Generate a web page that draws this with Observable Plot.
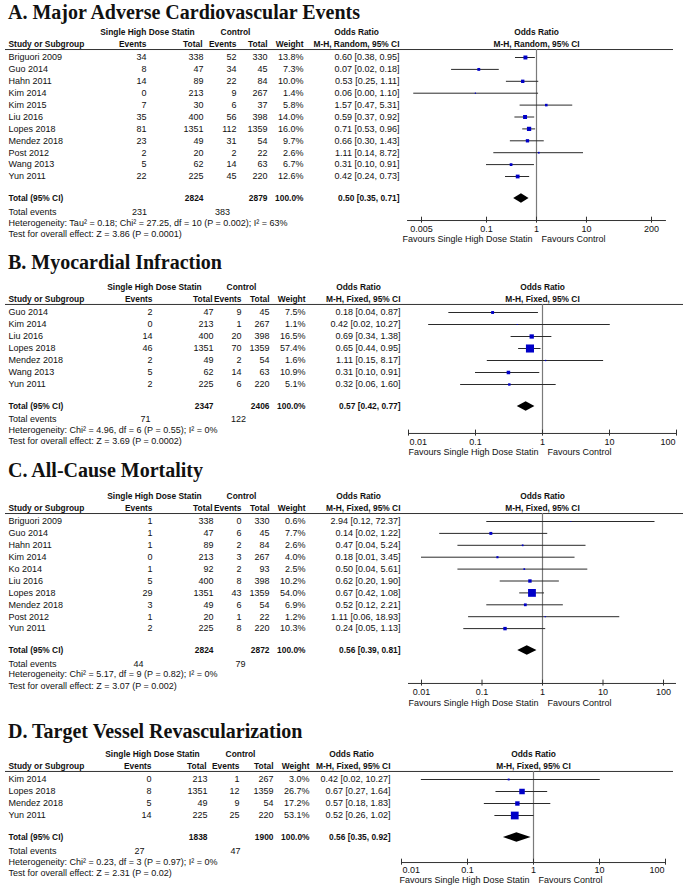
<!DOCTYPE html>
<html><head><meta charset="utf-8">
<script src="https://cdn.jsdelivr.net/npm/d3@7"></script>
<script src="https://cdn.jsdelivr.net/npm/@observablehq/plot@0.6"></script>
<style>
body{margin:0;background:#fff;}
#wrap{position:relative;width:685px;height:886px;overflow:hidden;background:#fff;}
.title{position:absolute;left:8px;font-family:"Liberation Serif","Times New Roman",serif;font-weight:bold;font-size:20px;line-height:20px;color:#111;white-space:nowrap;}
.panel{position:absolute;left:0;}
.panel svg{overflow:visible;}
</style></head><body><div id="wrap"></div>
<script>
// ---------- Panel A: Major Adverse Cardiovascular Events ----------
const studiesA = ["Briguori 2009","Guo 2014","Hahn 2011","Kim 2014","Kim 2015","Liu 2016","Lopes 2018","Mendez 2018","Post 2012","Wang 2013","Yun 2011"];
const eventsTA = [34,8,14,0,7,35,81,23,2,5,22];
const totalTA  = [338,47,89,213,30,400,1351,49,20,62,225];
const eventsCA = [52,34,22,9,6,56,112,31,2,14,45];
const totalCA  = [330,45,84,267,37,398,1359,54,22,63,220];
const weightA  = [13.8,7.3,10.0,1.4,5.8,14.0,16.0,9.7,2.6,6.7,12.6];
const orA      = [0.60,0.07,0.53,0.06,1.57,0.59,0.71,0.66,1.11,0.31,0.42];
const loA      = [0.38,0.02,0.25,0.0035,0.47,0.37,0.53,0.30,0.14,0.10,0.24];
const hiA      = [0.95,0.18,1.11,1.10,5.31,0.92,0.96,1.43,8.72,0.91,0.73];
const sumA     = {nT:2824, nC:2879, eT:231, eC:383, or:0.50, lo:0.35, hi:0.71};
const hetA  = "Heterogeneity: Tau² = 0.18; Chi² = 27.25, df = 10 (P = 0.002); I² = 63%";
const testA = "Test for overall effect: Z = 3.86 (P = 0.0001)";
const ticksA = [0.005,0.1,1,10,200];

// ---------- Panel B: Myocardial Infraction ----------
const studiesB = ["Guo 2014","Kim 2014","Liu 2016","Lopes 2018","Mendez 2018","Wang 2013","Yun 2011"];
const eventsTB = [2,0,14,46,2,5,2];
const totalTB  = [47,213,400,1351,49,62,225];
const eventsCB = [9,1,20,70,2,14,6];
const totalCB  = [45,267,398,1359,54,63,220];
const weightB  = [7.5,1.1,16.5,57.4,1.6,10.9,5.1];
const orB      = [0.18,0.42,0.69,0.65,1.11,0.31,0.32];
const loB      = [0.04,0.02,0.34,0.44,0.15,0.10,0.06];
const hiB      = [0.87,10.27,1.38,0.95,8.17,0.91,1.60];
const sumB     = {nT:2347, nC:2406, eT:71, eC:122, or:0.57, lo:0.42, hi:0.77};
const hetB  = "Heterogeneity: Chi² = 4.96, df = 6 (P = 0.55); I² = 0%";
const testB = "Test for overall effect: Z = 3.69 (P = 0.0002)";

// ---------- Panel C: All-Cause Mortality ----------
const studiesC = ["Briguori 2009","Guo 2014","Hahn 2011","Kim 2014","Ko 2014","Liu 2016","Lopes 2018","Mendez 2018","Post 2012","Yun 2011"];
const eventsTC = [1,1,1,0,1,5,29,3,1,2];
const totalTC  = [338,47,89,213,92,400,1351,49,20,225];
const eventsCC = [0,6,2,3,2,8,43,6,1,8];
const totalCC  = [330,45,84,267,93,398,1359,54,22,220];
const weightC  = [0.6,7.7,2.6,4.0,2.5,10.2,54.0,6.9,1.2,10.3];
const orC      = [2.94,0.14,0.47,0.18,0.50,0.62,0.67,0.52,1.11,0.24];
const loC      = [0.12,0.02,0.04,0.01,0.04,0.20,0.42,0.12,0.06,0.05];
const hiC      = [72.37,1.22,5.24,3.45,5.61,1.90,1.08,2.21,18.93,1.13];
const sumC     = {nT:2824, nC:2872, eT:44, eC:79, or:0.56, lo:0.39, hi:0.81};
const hetC  = "Heterogeneity: Chi² = 5.17, df = 9 (P = 0.82); I² = 0%";
const testC = "Test for overall effect: Z = 3.07 (P = 0.002)";

// ---------- Panel D: Target Vessel Revascularization ----------
const studiesD = ["Kim 2014","Lopes 2018","Mendez 2018","Yun 2011"];
const eventsTD = [0,8,5,14];
const totalTD  = [213,1351,49,225];
const eventsCD = [1,12,9,25];
const totalCD  = [267,1359,54,220];
const weightD  = [3.0,26.7,17.2,53.1];
const orD      = [0.42,0.67,0.57,0.52];
const loD      = [0.02,0.27,0.18,0.26];
const hiD      = [10.27,1.64,1.83,1.02];
const sumD     = {nT:1838, nC:1900, eT:27, eC:47, or:0.56, lo:0.35, hi:0.92};
const hetD  = "Heterogeneity: Chi² = 0.23, df = 3 (P = 0.97); I² = 0%";
const testD = "Test for overall effect: Z = 2.31 (P = 0.02)";

const ticksBCD = [0.01,0.1,1,10,100];

const titles = ["A. Major Adverse Cardiovascular Events","B. Myocardial Infraction","C. All-Cause Mortality","D. Target Vessel Revascularization"];
const methods = ["M-H, Random, 95% CI","M-H, Fixed, 95% CI","M-H, Fixed, 95% CI","M-H, Fixed, 95% CI"];

// ---------- helpers ----------
function buildRows(studies, eT, nT, eC, nC, w, or, lo, hi) {
  return studies.map((s, i) => ({i, s, eT: eT[i], nT: nT[i], eC: eC[i], nC: nC[i], w: w[i], or: or[i], lo: lo[i], hi: hi[i]}));
}
const f2 = v => v.toFixed(2);
const ciText = d => `${f2(d.or)} [${f2(d.lo)}, ${f2(d.hi)}]`;

const FONT = '"Liberation Sans", Arial, Helvetica, sans-serif';
const INK = "#111";
const BOLD_SIZE = 8.4;

function label(text, y, x, anchor, bold) {
  return Plot.text([text], {frameAnchor: "left", y: () => y, text: d => d, dx: x, textAnchor: anchor,
    fontWeight: bold ? "bold" : "normal", fontSize: bold ? BOLD_SIZE : 9, fill: INK});
}
function column(rows, fn, x, anchor) {
  return Plot.text(rows, {frameAnchor: "left", y: "i", text: fn, dx: x, textAnchor: anchor, fontSize: 9, fill: INK});
}

function drawPanel(p) {
  const L = p.layout, C = p.cols, rows = p.rows, S = p.sum;
  const marks = [];
  // header rule
  marks.push(Plot.ruleY([L.line], {y: d => d, insetLeft: 5, insetRight: 685 - C.lineEnd, stroke: "#333", strokeWidth: 1}));
  // null line at OR = 1
  marks.push(Plot.ruleX([1], {x: d => d, y1: () => L.line, y2: () => L.axis, stroke: "#7a7a7a", strokeWidth: 1.2}));
  // CI lines
  marks.push(Plot.ruleY(rows, {y: "i", x1: "lo", x2: "hi", stroke: "#2a2a2a", strokeWidth: 1}));
  // weighted squares
  marks.push(Plot.dot(rows, {x: "or", y: "i", r: "w", symbol: "square", fill: "#0000c8", stroke: "none"}));
  // summary diamond
  const h = 0.4;
  const dia = [{x: S.lo, y1: L.total, y2: L.total}, {x: S.or, y1: L.total - h, y2: L.total + h}, {x: S.hi, y1: L.total, y2: L.total}];
  marks.push(Plot.areaY(dia, {x: "x", y1: "y1", y2: "y2", fill: "#000"}));
  // axis
  marks.push(Plot.ruleY([L.axis], {y: d => d, x1: () => p.axisExtent[0], x2: () => p.axisExtent[1], stroke: "#333", strokeWidth: 1}));
  marks.push(Plot.ruleX(p.ticks, {x: d => d, y1: () => L.axis - 0.28, y2: () => L.axis + 0.22, stroke: "#333", strokeWidth: 1}));
  const tk = p.ticks;
  if (p.endInside) {
    marks.push(Plot.text([tk[0]], {x: d => d, y: () => L.tickLab, text: d => String(d), textAnchor: "start", dx: 1, fontSize: 9, fill: INK}));
    marks.push(Plot.text(tk.slice(1, -1), {x: d => d, y: () => L.tickLab, text: d => String(d), fontSize: 9, fill: INK}));
    marks.push(Plot.text([tk[tk.length - 1]], {x: d => d, y: () => L.tickLab, text: d => String(d), textAnchor: "end", dx: -1, fontSize: 9, fill: INK}));
  } else {
    marks.push(Plot.text(tk, {x: d => d, y: () => L.tickLab, text: d => String(d), fontSize: 9, fill: INK}));
  }
  marks.push(Plot.text([1], {x: d => d, y: () => L.fav, text: () => "Favours Single High Dose Statin", textAnchor: "end", dx: -4, fontSize: 9, fill: INK}));
  marks.push(Plot.text([1], {x: d => d, y: () => L.fav, text: () => "Favours Control", textAnchor: "start", dx: 5, fontSize: 9, fill: INK}));
  // forest header
  marks.push(Plot.text([1], {x: d => d, y: () => L.hdr1, text: () => "Odds Ratio", fontWeight: "bold", fontSize: BOLD_SIZE, fill: INK}));
  marks.push(Plot.text([1], {x: d => d, y: () => L.hdr2, text: () => p.method, fontWeight: "bold", fontSize: BOLD_SIZE, fill: INK}));
  // table header
  marks.push(label("Single High Dose Statin", L.hdr1, C.hdrSH, "middle", true));
  marks.push(label("Control", L.hdr1, C.hdrCtl, "middle", true));
  marks.push(label("Odds Ratio", L.hdr1, C.hdrOR, "middle", true));
  marks.push(label("Study or Subgroup", L.hdr2, C.study, "start", true));
  marks.push(label("Events", L.hdr2, C.eT, "end", true));
  marks.push(label("Total", L.hdr2, C.nT - 1, "end", true));
  marks.push(label("Events", L.hdr2, C.eC, "end", true));
  marks.push(label("Total", L.hdr2, C.nC, "end", true));
  marks.push(label("Weight", L.hdr2, C.w, "end", true));
  marks.push(label(p.method, L.hdr2, C.ci, "end", true));
  // rows
  marks.push(column(rows, d => d.s, C.study, "start"));
  marks.push(column(rows, d => String(d.eT), C.eT, "end"));
  marks.push(column(rows, d => String(d.nT), C.nT, "end"));
  marks.push(column(rows, d => String(d.eC), C.eC, "end"));
  marks.push(column(rows, d => String(d.nC), C.nC, "end"));
  marks.push(column(rows, d => d.w.toFixed(1) + "%", C.w, "end"));
  marks.push(column(rows, ciText, C.ci, "end"));
  // totals
  marks.push(label("Total (95% CI)", L.total, C.study, "start", true));
  marks.push(label(String(S.nT), L.total, C.nT, "end", true));
  marks.push(label(String(S.nC), L.total, C.nC, "end", true));
  marks.push(label("100.0%", L.total, C.w, "end", true));
  marks.push(label(ciText(S), L.total, C.ci, "end", true));
  marks.push(label("Total events", L.events, C.study, "start", false));
  marks.push(label(String(S.eT), L.events, C.totE[0], "middle", false));
  marks.push(label(String(S.eC), L.events, C.totE[1], "middle", false));
  marks.push(label(p.het, L.het, C.study, "start", false));
  marks.push(label(p.test, L.test, C.study, "start", false));

  const chart = Plot.plot({
    width: 685, height: L.height, margin: 0,
    x: {type: "log", domain: p.xDomain, range: p.xRange, axis: null},
    y: {type: "linear", domain: [0, 1], range: [L.row0 - L.top, L.row0 - L.top + L.step], axis: null},
    r: {type: "sqrt", domain: [0, 100], range: [0, 6]},
    style: {fontFamily: FONT, fontSize: "9px", color: INK, background: "transparent"},
    marks
  });
  const div = document.createElement("div");
  div.className = "panel";
  div.style.top = L.top + "px";
  div.appendChild(chart);
  return div;
}

const COLS_A = {study: 8, eT: 146, nT: 203, eC: 236, nC: 267, w: 303, ci: 399, hdrSH: 147, hdrCtl: 235, hdrOR: 356, totE: [139, 222], lineEnd: 673};
const COLS_BC = {study: 8, eT: 152, nT: 213, eC: 241, nC: 269, w: 305, ci: 400, hdrSH: 154, hdrCtl: 241, hdrOR: 358, totE: [145, 238], lineEnd: 683};
const COLS_C = Object.assign({}, COLS_BC, {totE: [138, 240]});
const COLS_D = {study: 8, eT: 151, nT: 207, eC: 239, nC: 273, w: 309, ci: 390, hdrSH: 152, hdrCtl: 240, hdrOR: 351, totE: [139, 235], lineEnd: 673};

const panels = [
  {title: titles[0], titleTop: 2, method: methods[0],
   rows: buildRows(studiesA, eventsTA, totalTA, eventsCA, totalCA, weightA, orA, loA, hiA), sum: sumA, het: hetA, test: testA,
   ticks: ticksA, endInside: false, xDomain: [0.005, 200], xRange: [421, 651], axisExtent: [0.00263, 398],
   cols: COLS_A,
   layout: {top: 22, height: 228, row0: 57, step: 11.9, hdr1: -2.1, hdr2: -1.09, line: -0.67, total: 11.85, events: 13.03, het: 13.95, test: 14.87, axis: 13.7, tickLab: 14.45, fav: 15.29}},
  {title: titles[1], titleTop: 252, method: methods[1],
   rows: buildRows(studiesB, eventsTB, totalTB, eventsCB, totalCB, weightB, orB, loB, hiB), sum: sumB, het: hetB, test: testB,
   ticks: ticksBCD, endInside: true, xDomain: [0.01, 100], xRange: [408, 676], axisExtent: [0.01, 100],
   cols: COLS_BC,
   layout: {top: 276, height: 186, row0: 312, step: 12, hdr1: -2.08, hdr2: -1.08, line: -0.67, total: 7.83, events: 8.92, het: 9.83, test: 10.75, axis: 10.08, tickLab: 10.83, fav: 11.67}},
  {title: titles[2], titleTop: 460, method: methods[2],
   rows: buildRows(studiesC, eventsTC, totalTC, eventsCC, totalCC, weightC, orC, loC, hiC), sum: sumC, het: hetC, test: testC,
   ticks: ticksBCD, endInside: false, xDomain: [0.01, 100], xRange: [421, 663], axisExtent: [0.0061, 164],
   cols: COLS_C,
   layout: {top: 485, height: 228, row0: 521, step: 11.9, hdr1: -2.1, hdr2: -1.09, line: -0.67, total: 10.84, events: 12.02, het: 12.86, test: 13.87, axis: 13.61, tickLab: 14.37, fav: 15.29}},
  {title: titles[3], titleTop: 721, method: methods[3],
   rows: buildRows(studiesD, eventsTD, totalTD, eventsCD, totalCD, weightD, orD, loD, hiD), sum: sumD, het: hetD, test: testD,
   ticks: ticksBCD, endInside: true, xDomain: [0.01, 100], xRange: [401, 665], axisExtent: [0.01, 100],
   cols: COLS_D,
   layout: {top: 744, height: 142, row0: 779, step: 12, hdr1: -2.08, hdr2: -1.08, line: -0.67, total: 4.83, events: 6.0, het: 6.92, test: 7.83, axis: 6.92, tickLab: 7.58, fav: 8.42}}
];

const wrap = document.getElementById("wrap");
for (const p of panels) {
  const t = document.createElement("div");
  t.className = "title";
  t.style.top = p.titleTop + "px";
  t.textContent = p.title;
  wrap.appendChild(t);
  wrap.appendChild(drawPanel(p));
}
</script>
</body></html>
